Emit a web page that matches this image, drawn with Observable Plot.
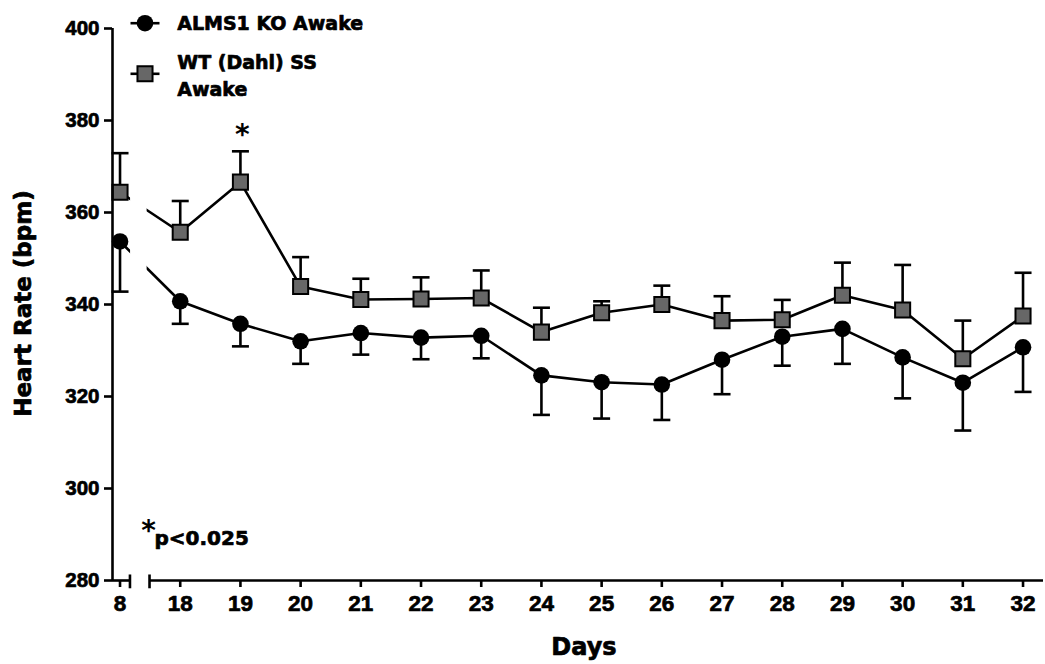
<!DOCTYPE html>
<html>
<head>
<meta charset="utf-8">
<script src="https://cdn.jsdelivr.net/npm/d3@7"></script>
<script src="https://cdn.jsdelivr.net/npm/@observablehq/plot@0.6"></script>
<style>
  html, body { margin: 0; padding: 0; background: white; }
</style>
</head>
<body>
<div id="chart"></div>
<script>
// ---- data ----
const days   = [8, 18, 19, 20, 21, 22, 23, 24, 25, 26, 27, 28, 29, 30, 31, 32];
const koMean = [353.7, 340.7, 335.8, 332.0, 333.8, 332.8, 333.2, 324.6, 323.1, 322.6, 328.0, 333.0, 334.7, 328.5, 323.0, 330.7];
const koSem  = [10.9, 4.9, 4.9, 4.9, 4.7, 4.7, 4.9, 8.6, 7.9, 7.7, 7.5, 6.3, 7.6, 8.9, 10.4, 9.7];
const wtMean = [364.4, 355.7, 366.6, 343.9, 341.1, 341.2, 341.4, 334.0, 338.2, 340.0, 336.5, 336.7, 342.0, 338.8, 328.2, 337.5];
const wtSem  = [8.5, 6.8, 6.7, 6.4, 4.5, 4.7, 6.0, 5.3, 2.5, 4.1, 5.3, 4.3, 7.1, 9.8, 8.3, 9.4];
const yTicks = [280, 300, 320, 340, 360, 380, 400];
const sigDays = [19];
const koLabel = "ALMS1 KO Awake";
const wtLabel = "WT (Dahl) SS\nAwake";
const pLabel = "p<0.025";
const yTitle = "Heart Rate (bpm)";
const xTitle = "Days";

// ---- broken x axis: day 8, then a break, then days 18..32 ----
const pos = d => (d === 8 ? 0 : d - 17);
const posToDay = new Map(days.map(d => [pos(d), d]));
const xMin = -0.125, xMax = 15.34;
const breakStart = 0.165, breakEnd = 0.49;

const rows = days.map((d, i) => ({
  day: d, x: pos(d),
  ko: koMean[i], koLo: koMean[i] - koSem[i],
  wt: wtMean[i], wtHi: wtMean[i] + wtSem[i]
}));
const sigRows = rows.filter(r => sigDays.includes(r.day));

const hline = {
  draw(ctx, size) {
    const w = Math.sqrt(size / Math.PI);
    ctx.moveTo(-w, 0); ctx.lineTo(w, 0);
  }
};

const TXT = "DejaVu Sans";
const TICKF = "Liberation Sans, Arial, sans-serif";
const SQFILL = "#676767";
const SW = 2.6;
const heavy = { stroke: "black", strokeWidth: 0.7 };

const chart = Plot.plot({
  width: 1045,
  height: 664,
  marginLeft: 112,
  marginRight: 2,
  marginTop: 28,
  marginBottom: 84,
  style: { background: "white", color: "black", fontFamily: TICKF, fontWeight: "bold", overflow: "visible" },
  x: { type: "linear", domain: [xMin, xMax], axis: null },
  y: { type: "linear", domain: [280, 400], axis: null },
  marks: [
    // series lines
    Plot.line(rows, { x: "x", y: "ko", stroke: "black", strokeWidth: SW }),
    Plot.line(rows, { x: "x", y: "wt", stroke: "black", strokeWidth: SW }),
    // axis break gap
    Plot.rect([0], { x1: breakStart + 0.01, x2: breakEnd - 0.04, y1: 280, y2: 400, fill: "white" }),
    // error bars
    Plot.ruleX(rows, { x: "x", y1: "ko", y2: "koLo", stroke: "black", strokeWidth: SW }),
    Plot.dot(rows, { x: "x", y: "koLo", symbol: hline, r: 8.5, stroke: "black", strokeWidth: SW, fill: "none" }),
    Plot.ruleX(rows, { x: "x", y1: "wt", y2: "wtHi", stroke: "black", strokeWidth: SW }),
    Plot.dot(rows, { x: "x", y: "wtHi", symbol: hline, r: 8.5, stroke: "black", strokeWidth: SW, fill: "none" }),
    // markers
    Plot.dot(rows, { x: "x", y: "ko", symbol: "circle", r: 8.3, fill: "black", stroke: "none" }),
    Plot.dot(rows, { x: "x", y: "wt", symbol: "square", r: 8.5, fill: SQFILL, stroke: "black", strokeWidth: 2 }),
    // y axis
    Plot.ruleX([xMin], { y1: 280, y2: 400, stroke: "black", strokeWidth: SW }),
    Plot.axisY({ ticks: yTicks, tickSize: 8, tickPadding: 5, fontSize: 20.5, fontWeight: "bold", fontFamily: TICKF, strokeWidth: SW, label: null, textStroke: "black", textStrokeWidth: 0.7 }),
    // x axis with break
    Plot.ruleY([280], { x1: xMin, x2: breakStart, stroke: "black", strokeWidth: SW }),
    Plot.ruleY([280], { x1: breakEnd, x2: xMax, stroke: "black", strokeWidth: SW }),
    Plot.ruleX([breakStart, breakEnd], { y1: 281.2, y2: 278.2, stroke: "black", strokeWidth: SW }),
    Plot.axisX({ ticks: days.map(pos), tickFormat: v => posToDay.get(v), tickSize: 7, tickPadding: 8, fontSize: 22.5, fontWeight: "bold", fontFamily: TICKF, strokeWidth: SW, label: null, textStroke: "black", textStrokeWidth: 0.7 }),
    // axis titles
    Plot.text([yTitle], { frameAnchor: "left", text: d => d, rotate: -90, dx: -89, dy: -1, textAnchor: "middle", lineAnchor: "middle", fontSize: 23, fontFamily: TXT, fontWeight: "bold", fill: "black", ...heavy }),
    Plot.text([xTitle], { frameAnchor: "bottom", text: d => d, dx: 6, dy: 67, textAnchor: "middle", lineAnchor: "middle", fontSize: 24, fontFamily: TXT, fontWeight: "bold", fill: "black", ...heavy }),
    // significance
    Plot.text(sigRows, { x: "x", y: "wtHi", text: () => "*", dy: -16, dx: 2, textAnchor: "middle", lineAnchor: "middle", fontSize: 28, fontFamily: TXT, fontWeight: "bold", fill: "black" }),
    Plot.text(["*"], { frameAnchor: "bottom-left", text: d => d, dx: 36, dy: -49, textAnchor: "middle", lineAnchor: "middle", fontSize: 28, fontFamily: TXT, fontWeight: "bold", fill: "black" }),
    Plot.text([pLabel], { frameAnchor: "bottom-left", text: d => d, dx: 42, dy: -42, textAnchor: "start", lineAnchor: "middle", fontSize: 20, fontFamily: TXT, fontWeight: "bold", fill: "black", ...heavy }),
    // legend
    Plot.dot([0], { frameAnchor: "top-left", dx: 32.5, dy: -5.3, symbol: hline, r: 14.5, stroke: "black", strokeWidth: SW, fill: "none" }),
    Plot.dot([0], { frameAnchor: "top-left", dx: 32.5, dy: -5.3, symbol: "circle", r: 8.3, fill: "black", stroke: "none" }),
    Plot.text([koLabel], { frameAnchor: "top-left", text: d => d, dx: 64.7, dy: -5, textAnchor: "start", lineAnchor: "middle", fontSize: 19, fontFamily: TXT, fontWeight: "bold", fill: "black", ...heavy }),
    Plot.dot([0], { frameAnchor: "top-left", dx: 32.5, dy: 45.3, symbol: hline, r: 14.5, stroke: "black", strokeWidth: SW, fill: "none" }),
    Plot.dot([0], { frameAnchor: "top-left", dx: 32.5, dy: 45.3, symbol: "square", r: 8.5, fill: SQFILL, stroke: "black", strokeWidth: 2 }),
    Plot.text([wtLabel], { frameAnchor: "top-left", text: d => d, dx: 64.7, dy: 45.5, textAnchor: "start", lineAnchor: "middle", lineHeight: 1.4, fontSize: 19, fontFamily: TXT, fontWeight: "bold", fill: "black", ...heavy })
  ]
});
document.getElementById("chart").appendChild(chart);
</script>
</body>
</html>
